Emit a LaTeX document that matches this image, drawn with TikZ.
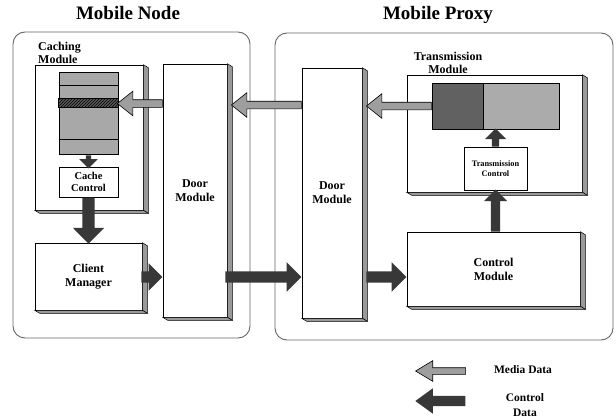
\documentclass[tikz,border=0pt]{standalone}
\usepackage{fontspec}
\setmainfont{Liberation Serif}
\usetikzlibrary{shapes.arrows,patterns,calc}

\tikzset{
  zone/.style={draw=black!60, line width=0.9pt, rounded corners=12pt},
  modbox/.style={draw, fill=white, line width=0.6pt, inner sep=0pt, align=center,
    font=\bfseries\fontsize{12}{14}\selectfont},
  face/.style={draw, fill=black!40, line width=0.5pt},
  title/.style={font=\bfseries\fontsize{19}{22}\selectfont, inner sep=0pt},
  lbl/.style={font=\bfseries\fontsize{12}{13}\selectfont, inner sep=0pt},
  media arrow/.style={single arrow, draw, fill=black!38, line width=0.6pt, inner sep=3.5pt,
    minimum width=24pt, single arrow head extend=8.5pt, single arrow tip angle=77},
  ctrl arrow/.style={single arrow, fill=black!78, inner sep=5.5pt,
    minimum width=29pt, single arrow head extend=9pt, single arrow tip angle=90},
}

\begin{document}
\begin{tikzpicture}[x=1pt,y=-1pt]
\useasboundingbox (0,0) rectangle (616,420);

% the two hosts
\draw[zone] (13,32) rectangle (250,338);
\draw[zone] (275,33) rectangle (613,340);
\node[title, anchor=base] (nodeTitle) at (128,20) {Mobile Node};
\node[title, anchor=base] (proxyTitle) at (438,20) {Mobile Proxy};

% modules
\node[modbox, minimum width=108pt, minimum height=145pt] (caching) at (89,137.5) {};
\node[lbl, anchor=north west, align=left] (cachingLbl) at (38,42) {Caching\\Module};
\node[modbox, minimum width=107pt, minimum height=67pt] (client) at (88.5,276.5) {Client\\Manager};
\node[modbox, minimum width=64pt, minimum height=253pt] (doorL) at (195,190.5) {Door\\Module};
\node[modbox, minimum width=60pt, minimum height=250pt] (doorR) at (332,193) {Door\\Module};
\node[modbox, minimum width=175pt, minimum height=117pt] (trans) at (494.5,133.5) {};
\node[lbl, anchor=north, align=center] (transLbl) at (448,52) {Transmission\\Module};
\node[modbox, minimum width=173pt, minimum height=74pt] (control) at (493.5,269) {Control\\Module};

\foreach \n in {caching,client,doorL,doorR,trans,control}{
  \draw[face] (\n.north east) -- ++(5,3) -- ($(\n.south east)+(5,3)$) -- (\n.south east) -- cycle;
  \draw[face] (\n.south west) -- ++(5,3) -- ($(\n.south east)+(5,3)$) -- (\n.south east) -- cycle;
}

% cache buffer
\node[draw, fill=black!34, line width=0.6pt, minimum width=59pt, minimum height=82pt, inner sep=0pt] (stack) at (88.5,113) {};
\draw[line width=0.6pt] (stack.west |- 0,85) -- (stack.east |- 0,85);
\draw[line width=0.6pt] (stack.west |- 0,139) -- (stack.east |- 0,139);
\draw[line width=0.6pt, fill=black!65, postaction={pattern=north east lines}] (stack.west |- 0,98) rectangle (stack.east |- 0,107);
\node[modbox, font=\bfseries\fontsize{10.5}{12.5}\selectfont, minimum width=59pt, minimum height=30pt] (cacheCtl) at (88.5,182) {Cache\\Control};

% transmission queue
\node[draw, fill=black!62, line width=0.6pt, minimum width=51pt, minimum height=46pt, inner sep=0pt] (qDark) at (457.5,106) {};
\node[draw, fill=black!33, line width=0.6pt, minimum width=76pt, minimum height=46pt, inner sep=0pt, anchor=west] (qLight) at (qDark.east) {};
\node[modbox, font=\bfseries\fontsize{8.3}{10}\selectfont, minimum width=63pt, minimum height=43pt] (transCtl) at (495.5,168.5) {Transmission\\Control};

% media data
\node[media arrow, shape border rotate=180, minimum height=45pt, anchor=tail] (m1) at (doorL.west |- 0,103.5) {};
\node[media arrow, shape border rotate=180, minimum height=70pt, anchor=tail] (m2) at (doorR.west |- 0,105) {};
\node[media arrow, shape border rotate=180, minimum height=65pt, anchor=tail] (m3) at (qDark.west) {};

% control data
\node[ctrl arrow, shape border rotate=270, minimum height=13pt, inner sep=2.5pt, minimum width=18pt, single arrow head extend=6.5pt] (c1) at ($(stack.south)!0.5!(cacheCtl.north)$) {};
\node[ctrl arrow, shape border rotate=270, minimum height=46pt, inner sep=6pt, minimum width=31pt, single arrow head extend=9.5pt, anchor=tail] (c2) at (cacheCtl.south) {};
\node[ctrl arrow, shape border rotate=0, minimum height=21pt, minimum width=27pt, single arrow head extend=8pt, anchor=tip] (c3) at (doorL.west |- 0,277) {};
\node[ctrl arrow, shape border rotate=0, minimum height=76pt, anchor=tip] (c4) at (doorR.west |- 0,277) {};
\node[ctrl arrow, shape border rotate=0, minimum height=40pt, anchor=tip] (c5) at (control.west |- 0,277) {};
\node[ctrl arrow, shape border rotate=90, minimum height=42pt, inner sep=4.5pt, minimum width=23pt, single arrow head extend=7pt, anchor=tail] (c6) at (control.north -| transCtl.south) {};
\node[ctrl arrow, shape border rotate=90, minimum height=18pt, inner sep=3.5pt, minimum width=21pt, single arrow head extend=7pt, anchor=tail] (c7) at (transCtl.north) {};

% legend
\node[media arrow, shape border rotate=180, minimum height=50pt, inner sep=3pt, minimum width=20pt, single arrow head extend=7pt, single arrow tip angle=62, anchor=tip] (legMedia) at (415,371) {};
\node[ctrl arrow, shape border rotate=180, minimum height=50pt, inner sep=5pt, minimum width=25pt, single arrow head extend=7.5pt, single arrow tip angle=72, anchor=tip] (legCtrl) at (415,401) {};
\node[lbl, font=\bfseries\fontsize{11.5}{15}\selectfont] (legMediaTxt) at (523,370) {Media Data};
\node[lbl, font=\bfseries\fontsize{11.5}{15}\selectfont, align=center] (legCtrlTxt) at (525,405) {Control\\Data};
\end{tikzpicture}
\end{document}
